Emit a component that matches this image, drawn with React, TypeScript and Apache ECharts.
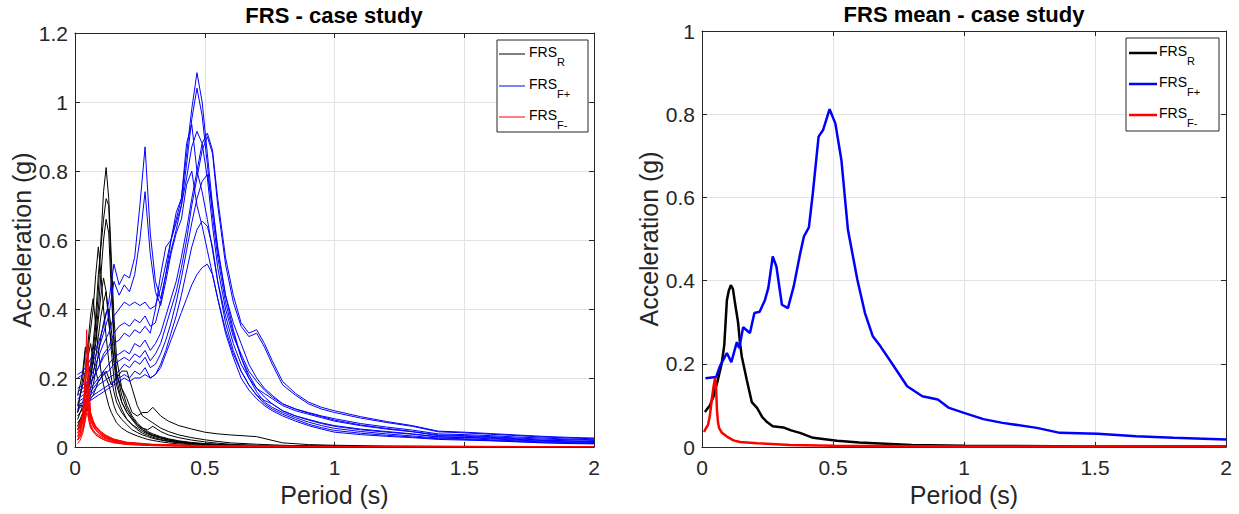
import React, { useEffect, useRef } from "react";
import * as echarts from "echarts";

const FONT = "'Liberation Sans', Arial, Helvetica, sans-serif";
const TXT = "#262626";

// ---------- Left panel: individual FRS curves ----------
const PB = [0.01, 0.03, 0.05, 0.07, 0.09, 0.11, 0.13, 0.15, 0.17, 0.19, 0.21, 0.23, 0.25, 0.27, 0.29, 0.31, 0.33, 0.35, 0.37, 0.39, 0.41, 0.43, 0.45, 0.47, 0.49, 0.51, 0.53, 0.55, 0.58, 0.61, 0.64, 0.67, 0.7, 0.73, 0.76, 0.8, 0.85, 0.9, 0.95, 1.0, 1.1, 1.2, 1.3, 1.4, 1.5, 1.6, 1.7, 1.8, 1.9, 2.0];
const B1 = [0.21, 0.22, 0.24, 0.27, 0.3, 0.35, 0.42, 0.53, 0.47, 0.5, 0.49, 0.55, 0.7, 0.87, 0.62, 0.48, 0.43, 0.5, 0.6, 0.68, 0.72, 0.88, 0.935, 0.8, 0.74, 0.66, 0.57, 0.48, 0.38, 0.3, 0.24, 0.2, 0.17, 0.155, 0.14, 0.12, 0.105, 0.095, 0.085, 0.075, 0.062, 0.052, 0.044, 0.033, 0.031, 0.028, 0.024, 0.02, 0.018, 0.016];
const B2 = [0.2, 0.21, 0.22, 0.25, 0.28, 0.33, 0.38, 0.48, 0.44, 0.47, 0.45, 0.5, 0.6, 0.74, 0.56, 0.45, 0.41, 0.48, 0.56, 0.62, 0.66, 0.76, 0.8, 0.7, 0.64, 0.57, 0.5, 0.43, 0.34, 0.27, 0.22, 0.18, 0.15, 0.135, 0.125, 0.105, 0.09, 0.08, 0.07, 0.062, 0.052, 0.045, 0.038, 0.029, 0.027, 0.024, 0.02, 0.017, 0.015, 0.013];
const B3 = [0.17, 0.18, 0.19, 0.22, 0.26, 0.3, 0.33, 0.38, 0.4, 0.42, 0.41, 0.42, 0.41, 0.42, 0.4, 0.41, 0.46, 0.53, 0.6, 0.66, 0.72, 0.85, 0.98, 1.085, 1.0, 0.85, 0.7, 0.57, 0.44, 0.36, 0.3, 0.24, 0.2, 0.17, 0.15, 0.125, 0.11, 0.1, 0.09, 0.082, 0.068, 0.058, 0.049, 0.038, 0.036, 0.033, 0.029, 0.026, 0.023, 0.021];
const B4 = [0.15, 0.16, 0.17, 0.2, 0.23, 0.27, 0.29, 0.33, 0.35, 0.36, 0.35, 0.37, 0.36, 0.38, 0.35, 0.36, 0.42, 0.5, 0.57, 0.63, 0.7, 0.82, 0.95, 1.04, 0.96, 0.82, 0.67, 0.55, 0.42, 0.33, 0.26, 0.21, 0.17, 0.145, 0.125, 0.105, 0.09, 0.078, 0.068, 0.06, 0.05, 0.043, 0.037, 0.03, 0.028, 0.026, 0.022, 0.019, 0.017, 0.015];
const B5 = [0.14, 0.15, 0.16, 0.18, 0.2, 0.22, 0.24, 0.26, 0.27, 0.28, 0.27, 0.3, 0.29, 0.31, 0.28, 0.3, 0.33, 0.38, 0.43, 0.48, 0.55, 0.63, 0.72, 0.8, 0.88, 0.91, 0.86, 0.72, 0.55, 0.44, 0.36, 0.33, 0.34, 0.3, 0.25, 0.19, 0.155, 0.13, 0.115, 0.105, 0.088, 0.074, 0.062, 0.046, 0.043, 0.039, 0.035, 0.031, 0.028, 0.026];
const B6 = [0.13, 0.14, 0.15, 0.17, 0.19, 0.21, 0.22, 0.24, 0.25, 0.26, 0.25, 0.27, 0.26, 0.28, 0.25, 0.27, 0.3, 0.35, 0.4, 0.45, 0.52, 0.6, 0.7, 0.78, 0.86, 0.9, 0.85, 0.7, 0.53, 0.42, 0.35, 0.32, 0.33, 0.29, 0.24, 0.18, 0.15, 0.125, 0.11, 0.1, 0.084, 0.071, 0.06, 0.044, 0.041, 0.037, 0.033, 0.029, 0.026, 0.024];
const B7 = [0.12, 0.13, 0.14, 0.16, 0.18, 0.19, 0.2, 0.21, 0.22, 0.24, 0.23, 0.25, 0.24, 0.26, 0.23, 0.24, 0.27, 0.31, 0.36, 0.42, 0.49, 0.57, 0.65, 0.72, 0.77, 0.79, 0.7, 0.58, 0.44, 0.34, 0.26, 0.2, 0.16, 0.13, 0.115, 0.1, 0.085, 0.072, 0.062, 0.054, 0.045, 0.038, 0.032, 0.026, 0.024, 0.021, 0.018, 0.015, 0.013, 0.011];
const B8 = [0.11, 0.12, 0.13, 0.15, 0.16, 0.17, 0.18, 0.19, 0.2, 0.21, 0.2, 0.22, 0.21, 0.23, 0.2, 0.21, 0.24, 0.28, 0.33, 0.38, 0.44, 0.51, 0.58, 0.63, 0.655, 0.64, 0.58, 0.48, 0.36, 0.28, 0.22, 0.18, 0.15, 0.125, 0.11, 0.095, 0.08, 0.066, 0.056, 0.048, 0.04, 0.034, 0.029, 0.024, 0.022, 0.019, 0.016, 0.013, 0.011, 0.01];
const B9 = [0.12, 0.12, 0.13, 0.14, 0.15, 0.16, 0.17, 0.18, 0.19, 0.2, 0.19, 0.2, 0.2, 0.21, 0.2, 0.21, 0.23, 0.27, 0.31, 0.35, 0.39, 0.43, 0.47, 0.5, 0.52, 0.53, 0.5, 0.43, 0.33, 0.26, 0.2, 0.165, 0.14, 0.12, 0.105, 0.09, 0.075, 0.062, 0.052, 0.043, 0.036, 0.031, 0.027, 0.022, 0.02, 0.018, 0.015, 0.012, 0.01, 0.009];
const B10 = [0.16, 0.17, 0.18, 0.2, 0.23, 0.26, 0.28, 0.3, 0.31, 0.33, 0.32, 0.34, 0.33, 0.35, 0.33, 0.4, 0.5, 0.58, 0.6, 0.65, 0.7, 0.78, 0.87, 0.915, 0.88, 0.78, 0.64, 0.52, 0.4, 0.32, 0.27, 0.22, 0.19, 0.165, 0.145, 0.125, 0.11, 0.098, 0.088, 0.078, 0.064, 0.054, 0.045, 0.035, 0.033, 0.03, 0.026, 0.023, 0.021, 0.019];

const PK = [0.01, 0.02, 0.03, 0.04, 0.05, 0.06, 0.07, 0.08, 0.09, 0.1, 0.11, 0.12, 0.13, 0.14, 0.15, 0.16, 0.18, 0.2, 0.22, 0.24, 0.26, 0.28, 0.3, 0.33, 0.36, 0.4, 0.45, 0.5, 0.55, 0.6, 0.7, 0.8, 0.9, 1.0, 1.2, 1.5, 2.0];
const K1 = [0.08, 0.1, 0.12, 0.15, 0.18, 0.22, 0.28, 0.35, 0.45, 0.6, 0.74, 0.81, 0.72, 0.55, 0.38, 0.26, 0.17, 0.12, 0.09, 0.07, 0.055, 0.045, 0.038, 0.03, 0.024, 0.018, 0.013, 0.01, 0.008, 0.006, 0.004, 0.003, 0.002, 0.002, 0.001, 0.001, 0.001];
const K2 = [0.1, 0.12, 0.13, 0.16, 0.2, 0.24, 0.3, 0.38, 0.5, 0.58, 0.66, 0.72, 0.7, 0.5, 0.32, 0.22, 0.15, 0.11, 0.085, 0.065, 0.05, 0.042, 0.035, 0.028, 0.022, 0.016, 0.012, 0.009, 0.007, 0.005, 0.004, 0.003, 0.002, 0.002, 0.001, 0.001, 0.001];
const K3 = [0.12, 0.15, 0.18, 0.22, 0.28, 0.34, 0.4, 0.5, 0.58, 0.5, 0.4, 0.32, 0.25, 0.2, 0.16, 0.13, 0.1, 0.08, 0.065, 0.055, 0.045, 0.038, 0.032, 0.026, 0.02, 0.015, 0.011, 0.009, 0.007, 0.005, 0.004, 0.003, 0.002, 0.002, 0.001, 0.001, 0.001];
const K4 = [0.06, 0.08, 0.1, 0.13, 0.16, 0.2, 0.25, 0.3, 0.37, 0.44, 0.49, 0.45, 0.36, 0.3, 0.25, 0.21, 0.17, 0.14, 0.1, 0.09, 0.1, 0.1, 0.115, 0.09, 0.075, 0.062, 0.052, 0.043, 0.038, 0.035, 0.03, 0.012, 0.007, 0.005, 0.003, 0.002, 0.001];
const K5 = [0.05, 0.07, 0.09, 0.11, 0.14, 0.17, 0.21, 0.26, 0.32, 0.38, 0.42, 0.45, 0.38, 0.28, 0.2, 0.15, 0.11, 0.08, 0.065, 0.05, 0.04, 0.034, 0.028, 0.022, 0.017, 0.013, 0.01, 0.008, 0.006, 0.004, 0.003, 0.002, 0.002, 0.001, 0.001, 0.001, 0.001];
const K6 = [0.1, 0.15, 0.2, 0.28, 0.3, 0.38, 0.43, 0.35, 0.28, 0.22, 0.18, 0.15, 0.12, 0.1, 0.085, 0.07, 0.055, 0.045, 0.038, 0.032, 0.027, 0.022, 0.019, 0.015, 0.012, 0.009, 0.007, 0.005, 0.004, 0.003, 0.002, 0.002, 0.001, 0.001, 0.001, 0.001, 0.001];
const K7 = [0.15, 0.18, 0.22, 0.29, 0.26, 0.3, 0.25, 0.22, 0.19, 0.2, 0.22, 0.2, 0.18, 0.15, 0.12, 0.1, 0.08, 0.065, 0.05, 0.042, 0.035, 0.03, 0.025, 0.02, 0.016, 0.012, 0.009, 0.007, 0.005, 0.004, 0.003, 0.002, 0.001, 0.001, 0.001, 0.001, 0.001];
const K8 = [0.07, 0.08, 0.09, 0.1, 0.12, 0.14, 0.15, 0.17, 0.19, 0.2, 0.21, 0.22, 0.2, 0.18, 0.19, 0.2, 0.22, 0.22, 0.17, 0.12, 0.09, 0.08, 0.07, 0.055, 0.045, 0.035, 0.027, 0.021, 0.016, 0.012, 0.008, 0.005, 0.003, 0.002, 0.001, 0.001, 0.001];
const K9 = [0.09, 0.1, 0.11, 0.13, 0.16, 0.2, 0.25, 0.32, 0.4, 0.5, 0.6, 0.66, 0.62, 0.45, 0.3, 0.2, 0.13, 0.1, 0.08, 0.065, 0.055, 0.05, 0.06, 0.045, 0.035, 0.027, 0.02, 0.015, 0.011, 0.008, 0.005, 0.004, 0.003, 0.002, 0.001, 0.001, 0.001];
const K10 = [0.05, 0.06, 0.08, 0.1, 0.12, 0.15, 0.18, 0.22, 0.27, 0.32, 0.36, 0.39, 0.4, 0.34, 0.25, 0.18, 0.13, 0.1, 0.08, 0.06, 0.05, 0.04, 0.033, 0.026, 0.02, 0.015, 0.011, 0.008, 0.006, 0.004, 0.003, 0.002, 0.001, 0.001, 0.001, 0.001, 0.001];

const PR = [0.01, 0.02, 0.03, 0.035, 0.04, 0.045, 0.05, 0.055, 0.06, 0.07, 0.08, 0.1, 0.12, 0.15, 0.2, 0.3, 0.5, 1.0, 2.0];
const R1 = [0.03, 0.05, 0.1, 0.15, 0.22, 0.34, 0.2, 0.12, 0.09, 0.07, 0.055, 0.04, 0.03, 0.02, 0.012, 0.006, 0.003, 0.001, 0.001];
const R2 = [0.04, 0.06, 0.09, 0.12, 0.18, 0.24, 0.3, 0.16, 0.1, 0.075, 0.06, 0.042, 0.032, 0.022, 0.013, 0.007, 0.003, 0.001, 0.001];
const R3 = [0.02, 0.04, 0.08, 0.13, 0.18, 0.23, 0.15, 0.1, 0.08, 0.06, 0.05, 0.035, 0.026, 0.018, 0.011, 0.006, 0.003, 0.001, 0.001];
const R4 = [0.05, 0.07, 0.1, 0.14, 0.2, 0.16, 0.12, 0.09, 0.075, 0.06, 0.048, 0.034, 0.025, 0.017, 0.01, 0.005, 0.002, 0.001, 0.001];
const R5 = [0.03, 0.04, 0.06, 0.08, 0.1, 0.13, 0.17, 0.12, 0.09, 0.07, 0.055, 0.04, 0.03, 0.02, 0.012, 0.006, 0.003, 0.001, 0.001];
const R6 = [0.02, 0.03, 0.05, 0.06, 0.08, 0.1, 0.12, 0.14, 0.1, 0.075, 0.06, 0.045, 0.034, 0.023, 0.014, 0.008, 0.004, 0.002, 0.001];
const R7 = [0.04, 0.05, 0.07, 0.09, 0.12, 0.15, 0.11, 0.08, 0.065, 0.05, 0.04, 0.03, 0.022, 0.015, 0.009, 0.005, 0.002, 0.001, 0.001];
const R8 = [0.01, 0.02, 0.04, 0.06, 0.08, 0.1, 0.09, 0.07, 0.055, 0.045, 0.036, 0.026, 0.019, 0.013, 0.008, 0.004, 0.002, 0.001, 0.001];
const R9 = [0.06, 0.07, 0.09, 0.11, 0.13, 0.12, 0.1, 0.08, 0.06, 0.045, 0.035, 0.025, 0.018, 0.012, 0.007, 0.004, 0.002, 0.001, 0.001];
const R10 = [0.02, 0.03, 0.05, 0.07, 0.1, 0.14, 0.16, 0.12, 0.09, 0.065, 0.05, 0.036, 0.027, 0.018, 0.011, 0.006, 0.003, 0.001, 0.001];

// ---------- Right panel: mean curves ----------
const MEAN_R_P = [0.011, 0.03, 0.043, 0.06, 0.075, 0.085, 0.095, 0.102, 0.11, 0.118, 0.126, 0.138, 0.145, 0.152, 0.171, 0.19, 0.21, 0.23, 0.248, 0.27, 0.31, 0.34, 0.374, 0.424, 0.515, 0.6, 0.7, 0.8, 1.0, 1.5, 2.0];
const MEAN_R_A = [0.084, 0.1, 0.12, 0.16, 0.2, 0.245, 0.353, 0.375, 0.389, 0.38, 0.346, 0.298, 0.25, 0.217, 0.161, 0.108, 0.094, 0.072, 0.06, 0.05, 0.047, 0.04, 0.034, 0.022, 0.015, 0.011, 0.008, 0.005, 0.003, 0.001, 0.001];
const MEAN_FP_P = [0.013, 0.054, 0.068, 0.095, 0.112, 0.133, 0.142, 0.157, 0.183, 0.2, 0.22, 0.24, 0.253, 0.27, 0.284, 0.305, 0.328, 0.35, 0.375, 0.389, 0.408, 0.423, 0.445, 0.462, 0.487, 0.509, 0.532, 0.557, 0.593, 0.622, 0.652, 0.681, 0.724, 0.783, 0.841, 0.9, 0.943, 1.0, 1.074, 1.147, 1.278, 1.366, 1.51, 1.657, 1.8, 2.0];
const MEAN_FP_A = [0.165, 0.168, 0.194, 0.226, 0.204, 0.252, 0.238, 0.288, 0.274, 0.322, 0.325, 0.353, 0.382, 0.458, 0.434, 0.342, 0.334, 0.386, 0.466, 0.506, 0.528, 0.61, 0.746, 0.762, 0.812, 0.778, 0.69, 0.522, 0.402, 0.322, 0.266, 0.242, 0.202, 0.146, 0.122, 0.114, 0.094, 0.082, 0.067, 0.058, 0.046, 0.034, 0.032, 0.026, 0.022, 0.018];
const MEAN_FM_P = [0.008, 0.015, 0.023, 0.03, 0.037, 0.044, 0.05, 0.054, 0.057, 0.061, 0.065, 0.075, 0.095, 0.12, 0.145, 0.21, 0.336, 0.5, 1.0, 2.0];
const MEAN_FM_A = [0.036, 0.045, 0.053, 0.075, 0.113, 0.145, 0.166, 0.14, 0.089, 0.06, 0.046, 0.035, 0.025, 0.016, 0.012, 0.009, 0.005, 0.003, 0.001, 0.001];

const X_TICKS = { min: 0, max: 2, interval: 0.5 };
const Y_LEFT = { min: 0, max: 1.2, interval: 0.2 };
const Y_RIGHT = { min: 0, max: 1, interval: 0.2 };

const BLACK = "#000000";
const BLUE = "#0000ff";
const RED = "#ff0000";

const zip = (xs: number[], ys: number[]) => xs.map((x, i) => [x, ys[i]]);

function lineSeries(xs: number[], ys: number[], color: string, width: number, axis: number) {
  return {
    type: "line",
    xAxisIndex: axis,
    yAxisIndex: axis,
    data: zip(xs, ys),
    showSymbol: false,
    symbol: "none",
    lineStyle: { color, width },
    itemStyle: { color },
    silent: true,
    clip: true,
  };
}

function xAxes(grid: number) {
  const common = {
    type: "value",
    gridIndex: grid,
    ...X_TICKS,
    axisLine: { show: true, onZero: false, lineStyle: { color: TXT, width: 1 } },
    axisTick: { show: true, inside: true, length: 5, lineStyle: { color: TXT } },
  };
  return [
    {
      ...common,
      position: "bottom",
      name: "Period (s)",
      nameLocation: "middle",
      nameGap: 32,
      nameTextStyle: { fontFamily: FONT, fontSize: 25, color: TXT },
      axisLabel: { fontFamily: FONT, fontSize: 21, color: TXT, margin: 10 },
      splitLine: { show: true, lineStyle: { color: "#e3e3e3", width: 1 } },
    },
    {
      ...common,
      position: "top",
      axisLabel: { show: false },
      splitLine: { show: false },
    },
  ];
}

function yAxes(grid: number, range: any) {
  const common = {
    type: "value",
    gridIndex: grid,
    ...range,
    axisLine: { show: true, onZero: false, lineStyle: { color: TXT, width: 1 } },
    axisTick: { show: true, inside: true, length: 5, lineStyle: { color: TXT } },
  };
  return [
    {
      ...common,
      position: "left",
      name: "Acceleration (g)",
      nameLocation: "middle",
      nameGap: 41,
      nameTextStyle: { fontFamily: FONT, fontSize: 25, color: TXT },
      axisLabel: { fontFamily: FONT, fontSize: 21, color: TXT, margin: 7 },
      splitLine: { show: true, lineStyle: { color: "#e3e3e3", width: 1 } },
    },
    {
      ...common,
      position: "right",
      axisLabel: { show: false },
      splitLine: { show: false },
    },
  ];
}

function legend(bx: number, by: number, bw: number, bh: number, lx1: number, lx2: number, ys: number[], tx: number, lw: number) {
  const subs = ["R", "F+", "F-"];
  const cols = [BLACK, BLUE, RED];
  const els: any[] = [
    {
      type: "rect",
      z: 100,
      shape: { x: bx, y: by, width: bw, height: bh },
      style: { fill: "#ffffff", stroke: TXT, lineWidth: 1 },
    },
  ];
  ys.forEach((y, i) => {
    els.push({
      type: "line",
      z: 101,
      shape: { x1: lx1, y1: y, x2: lx2, y2: y },
      style: { stroke: cols[i], lineWidth: lw },
    });
    els.push({
      type: "text",
      z: 101,
      x: tx,
      y: y - 2,
      style: { text: "FRS", fontFamily: FONT, fontSize: 14, fill: "#000", align: "left", verticalAlign: "middle" },
    });
    els.push({
      type: "text",
      z: 101,
      x: tx + 28,
      y: y + 8,
      style: { text: subs[i], fontFamily: FONT, fontSize: 11, fill: "#000", align: "left", verticalAlign: "middle" },
    });
  });
  return els;
}

const leftSeries = [
  ...[K1, K2, K3, K4, K5, K6, K7, K8, K9, K10].map((k) => lineSeries(PK, k, BLACK, 1, 0)),
  ...[B1, B2, B3, B4, B5, B6, B7, B8, B9, B10].map((b) => lineSeries(PB, b, BLUE, 1, 0)),
  ...[R1, R2, R3, R4, R5, R6, R7, R8, R9, R10].map((r) => lineSeries(PR, r, RED, 1, 0)),
];

const rightSeries = [
  lineSeries(MEAN_R_P, MEAN_R_A, BLACK, 2.5, 2),
  lineSeries(MEAN_FP_P, MEAN_FP_A, BLUE, 2.5, 2),
  lineSeries(MEAN_FM_P, MEAN_FM_A, RED, 2.5, 2),
];

const option: any = {
  animation: false,
  backgroundColor: "#ffffff",
  grid: [
    { left: 75, top: 33, width: 519, height: 414, containLabel: false },
    { left: 702, top: 31, width: 524, height: 416, containLabel: false },
  ],
  xAxis: [...xAxes(0), ...xAxes(1)],
  yAxis: [...yAxes(0, Y_LEFT), ...yAxes(1, Y_RIGHT)],
  series: [...leftSeries, ...rightSeries],
  graphic: [
    {
      type: "text",
      x: 334,
      y: 15,
      style: { text: "FRS - case study", fontFamily: FONT, fontSize: 22, fontWeight: "bold", fill: "#000", align: "center", verticalAlign: "middle" },
    },
    {
      type: "text",
      x: 964,
      y: 14,
      style: { text: "FRS mean - case study", fontFamily: FONT, fontSize: 22, fontWeight: "bold", fill: "#000", align: "center", verticalAlign: "middle" },
    },
    ...legend(497, 40, 91, 92, 499, 525, [54, 86, 117], 529, 1),
    ...legend(1126, 38, 93, 93, 1129, 1157, [53, 84, 115], 1159, 2.5),
  ],
};

export default function App() {
  const ref = useRef<HTMLDivElement>(null);
  useEffect(() => {
    const chart = echarts.init(ref.current!, null, { renderer: "svg" });
    chart.setOption(option);
    return () => chart.dispose();
  }, []);
  return (
    <div
      ref={ref}
      style={{ position: "absolute", left: 0, top: 0, width: 1239, height: 514, background: "#ffffff" }}
    />
  );
}
